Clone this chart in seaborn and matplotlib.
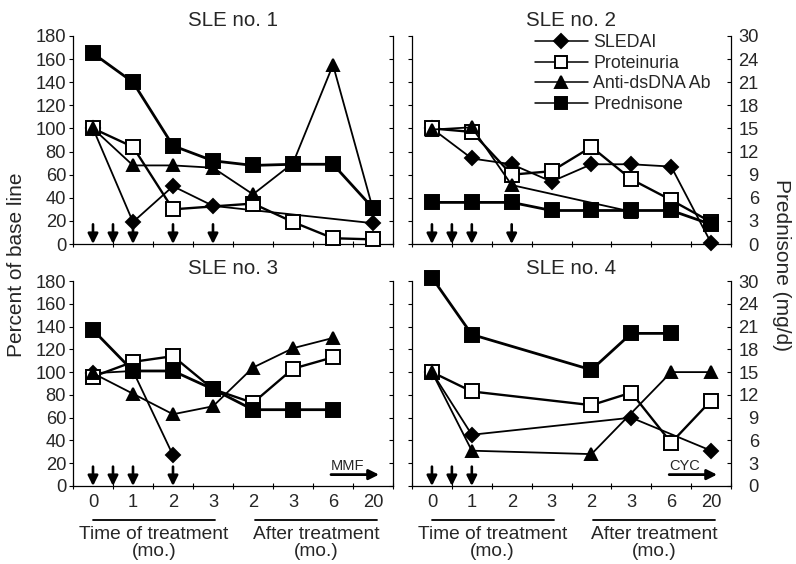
import numpy as np
import pandas as pd
import matplotlib.pyplot as plt
import matplotlib.transforms as mtransforms
from matplotlib.lines import Line2D
import seaborn as sns

# x slots: months of treatment (0-3) then months after treatment
x_labels = ['0', '1', '2', '3', '2', '3', '6', '20']
pred_labels = ['0', '3', '6', '9', '12', '15', '18', '21', '24', '30']

# values (percent of base line; prednisone in left-axis units)
sle1_sledai = [100, 19, 50, 33, None, None, None, 18]
sle1_prot = [100, 84, 30, None, 35, 19, 5, 4]
sle1_dna = [100, 68, 68, 66, 43, 70, 155, 30]
sle1_pred = [165, 140, 85, 72, 68, 69, 69, 31]
sle1_arrows = [0, 0.5, 1, 2, 3]

sle2_sledai = [100, 74, 69, 54, 69, 69, 67, 1]
sle2_prot = [100, 97, 60, 63, 84, 56, 38, 19]
sle2_dna = [99, 101, 51, None, None, 28, None, None]
sle2_pred = [36, 36, 36, 29, 29, 29, 29, 17]
sle2_arrows = [0, 0.5, 1, 2]

sle3_sledai = [99, 101, 27, None, None, None, None, None]
sle3_prot = [96, 109, 114, 85, 73, 103, 113, None]
sle3_dna = [99, 81, 63, 70, 104, 121, 130, None]
sle3_pred = [137, 101, 101, 85, 67, 67, 67, None]
sle3_arrows = [0, 0.5, 1, 2]

sle4_sledai = [100, 45, None, None, None, 60, None, 31]
sle4_prot = [100, 83, None, None, 71, 82, 38, 75]
sle4_dna = [100, 31, None, None, 28, None, 100, 100]
sle4_pred = [183, 133, None, None, 102, 134, 134, None]
sle4_arrows = [0, 0.5, 1]

series_names = ['SLEDAI', 'Proteinuria', 'Anti-dsDNA Ab', 'Prednisone']
styles = {
    'SLEDAI': dict(marker='D', ms=7.5, mfc='black', lw=1.3),
    'Proteinuria': dict(marker='s', ms=9.5, mfc='white', lw=1.7),
    'Anti-dsDNA Ab': dict(marker='^', ms=9, mfc='black', lw=1.3),
    'Prednisone': dict(marker='s', ms=9.5, mfc='black', lw=2.0),
}

panels = [
    ('SLE no. 1', [sle1_sledai, sle1_prot, sle1_dna, sle1_pred], sle1_arrows, None),
    ('SLE no. 2', [sle2_sledai, sle2_prot, sle2_dna, sle2_pred], sle2_arrows, None),
    ('SLE no. 3', [sle3_sledai, sle3_prot, sle3_dna, sle3_pred], sle3_arrows, 'MMF'),
    ('SLE no. 4', [sle4_sledai, sle4_prot, sle4_dna, sle4_pred], sle4_arrows, 'CYC'),
]

sns.set_style('white')
plt.rcParams['font.family'] = ['Liberation Sans', 'DejaVu Sans']

W, H = 796, 564
fig = plt.figure(figsize=(W / 100, H / 100), dpi=100)
boxes = [
    [73 / W, 1 - 244 / H, 320 / W, 208 / H],
    [412 / W, 1 - 244 / H, 319 / W, 208 / H],
    [73 / W, 1 - 486 / H, 320 / W, 205 / H],
    [412 / W, 1 - 486 / H, 319 / W, 205 / H],
]
fs = 13.2

for i, (title, vals, arrows, drug) in enumerate(panels):
    ax = fig.add_axes(boxes[i])
    left_col = i % 2 == 0
    bottom_row = i >= 2

    rows = []
    for name, v in zip(series_names, vals):
        for pos, y in enumerate(v):
            if y is not None:
                rows.append((pos, y, name))
    df = pd.DataFrame(rows, columns=['pos', 'value', 'series'])

    for name in series_names:
        st = styles[name]
        sns.lineplot(data=df[df['series'] == name], x='pos', y='value', ax=ax,
                     color='black', marker=st['marker'], markersize=st['ms'],
                     markerfacecolor=st['mfc'], markeredgecolor='black',
                     markeredgewidth=1.4, linewidth=st['lw'], errorbar=None,
                     legend=False, clip_on=False, zorder=3)

    ax.set_xlim(-0.5, 7.5)
    ax.set_ylim(0, 180)
    ax.set_xlabel('')
    ax.set_ylabel('')
    ax.set_title(title, fontsize=14.8, pad=7 if i < 2 else 5)

    for a in arrows:
        ax.annotate('', xy=(a, 0), xytext=(a, 17),
                    arrowprops=dict(arrowstyle='-|>', color='black', lw=1.9,
                                    mutation_scale=15, shrinkA=0, shrinkB=0))

    if drug:
        ax.annotate('', xy=(7.15, 10), xytext=(5.95, 10),
                    arrowprops=dict(arrowstyle='-|>', color='black', lw=2.0,
                                    mutation_scale=15, shrinkA=0, shrinkB=0))
        ax.text(5.95, 11, drug, fontsize=10.5, ha='left', va='bottom')

    # axes styling
    for s in ['top', 'right']:
        ax.spines[s].set_visible(False)
    for s in ['left', 'bottom']:
        ax.spines[s].set_color('black')
        ax.spines[s].set_linewidth(0.9)

    ax.set_yticks(range(0, 181, 20))
    ax.tick_params(axis='y', direction='out', length=3, width=0.8, color='black',
                   labelsize=fs, pad=2, labelleft=left_col, left=True)
    ax.set_xticks(range(8))
    ax.set_xticks(np.arange(-0.5, 8, 1), minor=True)
    ax.tick_params(axis='x', which='major', length=0, pad=6,
                   labelsize=fs, labelbottom=bottom_row)
    ax.tick_params(axis='x', which='minor', direction='inout', length=4,
                   width=0.8, color='black', bottom=True)
    if bottom_row:
        ax.set_xticklabels(x_labels)

    ax2 = ax.twinx()
    ax2.set_ylim(0, 180)
    ax2.set_yticks(range(0, 181, 20))
    for s in ['top', 'left', 'bottom']:
        ax2.spines[s].set_visible(False)
    ax2.spines['right'].set_color('black')
    ax2.spines['right'].set_linewidth(0.9)
    ax2.tick_params(axis='y', direction='in', length=3, width=0.8, color='black',
                    labelsize=fs, pad=20, labelright=not left_col)
    if not left_col:
        ax2.set_yticklabels(pred_labels)
        for lab in ax2.get_yticklabels():
            lab.set_horizontalalignment('right')
    ax2.grid(False)

    if bottom_row:
        trans = mtransforms.blended_transform_factory(ax.transData, ax.transAxes)
        ax.plot([0, 3.05], [-0.165, -0.165], color='black', lw=1.3,
                transform=trans, clip_on=False)
        ax.plot([4.05, 7.1], [-0.165, -0.165], color='black', lw=1.3,
                transform=trans, clip_on=False)
        ax.text(1.52, -0.195, 'Time of treatment\n(mo.)', transform=trans,
                ha='center', va='top', fontsize=13.8, linespacing=1.0)
        ax.text(5.57, -0.195, 'After treatment\n(mo.)', transform=trans,
                ha='center', va='top', fontsize=13.8, linespacing=1.0)

    if i == 1:
        handles = [Line2D([], [], color='black', lw=1.1, marker=styles[n]['marker'],
                          markersize=styles[n]['ms'] - 0.5,
                          markerfacecolor=styles[n]['mfc'], markeredgecolor='black',
                          markeredgewidth=1.4)
                   for n in series_names]
        ax.legend(handles, series_names, loc='upper left',
                  bbox_to_anchor=(0.385, 1.008), frameon=False, fontsize=12.8,
                  handlelength=3.0, handletextpad=0.3, labelspacing=0.2,
                  borderpad=0, borderaxespad=0)

fig.text(17 / W, 1 - 265 / H, 'Percent of base line', rotation=90,
         ha='center', va='center', fontsize=15)
fig.text(782 / W, 1 - 265 / H, 'Prednisone (mg/d)', rotation=270,
         ha='center', va='center', fontsize=15)

fig.savefig('out.png', dpi=100)
